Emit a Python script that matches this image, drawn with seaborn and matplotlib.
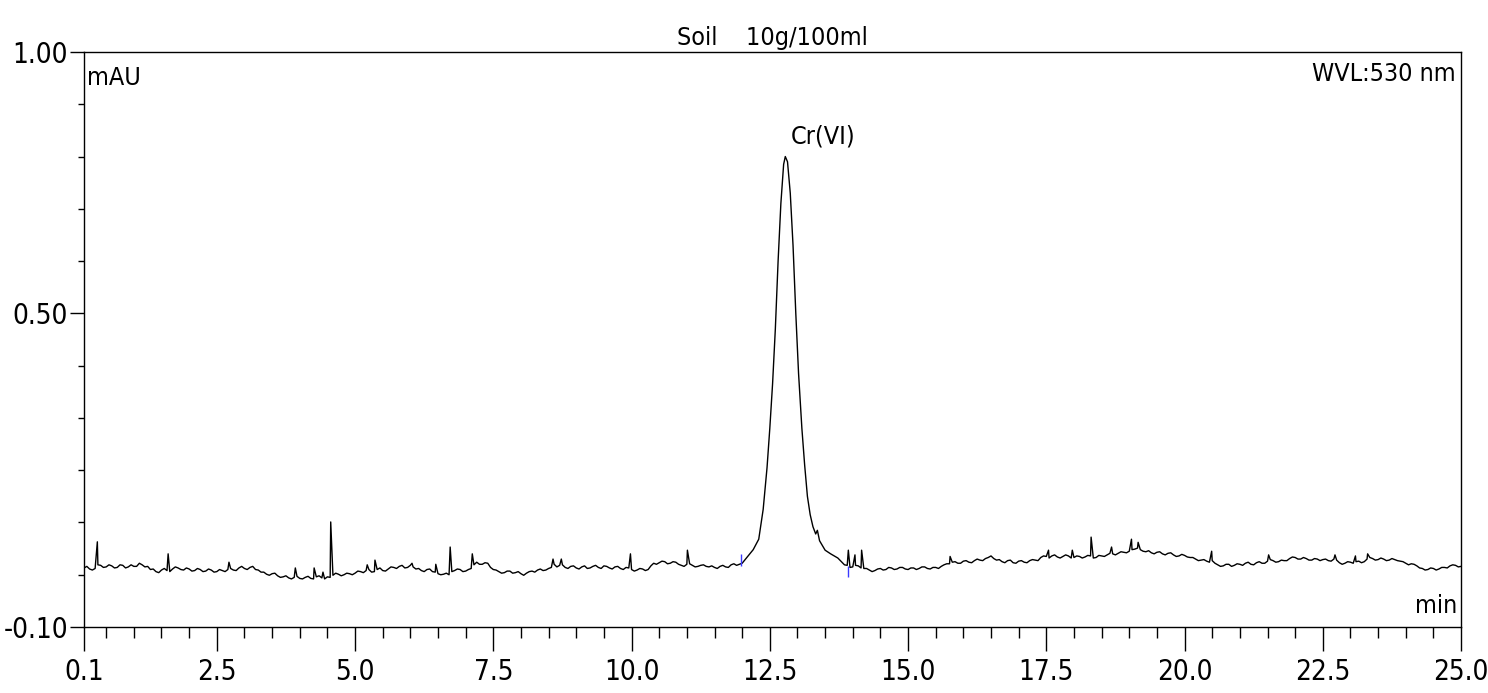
import numpy as np
import pandas as pd
import matplotlib.pyplot as plt
import seaborn as sns
from matplotlib.ticker import FixedLocator, MultipleLocator, FormatStrFormatter

# baseline, one value every 0.1 min from 0.1 to 11.9
base1_start = 0.1
base1 = [
    0.013, 0.011, 0.012, 0.018, 0.015, 0.017, 0.014, 0.018, 0.015, 0.016,
    0.022, 0.015, 0.010, 0.006, 0.009, 0.008, 0.011, 0.013, 0.009, 0.011,
    0.008, 0.010, 0.007, 0.009, 0.006, 0.008, 0.010, 0.009, 0.013, 0.012,
    0.014, 0.010, 0.005, 0.001, 0.002, -0.002, -0.004, -0.006, -0.005, -0.007,
    -0.005, -0.007, -0.004, -0.006, -0.004, -0.001, 0.001, 0.000, 0.002, 0.003,
    0.006, 0.008, 0.005, 0.010, 0.008, 0.011, 0.014, 0.016, 0.013, 0.018,
    0.011, 0.008, 0.010, 0.006, 0.002, 0.001, 0.000, 0.008, 0.010, 0.007,
    0.012, 0.024, 0.020, 0.022, 0.010, 0.006, 0.004, 0.007, 0.004, 0.002,
    0.003, 0.007, 0.009, 0.008, 0.012, 0.020, 0.018, 0.014, 0.016, 0.013,
    0.015, 0.012, 0.016, 0.014, 0.017, 0.013, 0.015, 0.012, 0.014, 0.010,
    0.009, 0.011, 0.010, 0.022, 0.023, 0.025, 0.022, 0.024, 0.018, 0.020,
    0.018, 0.016, 0.019, 0.015, 0.014, 0.016, 0.015, 0.019, 0.018,
]
# the small wiggles half way between those samples (0.15, 0.25, ... 11.85)
base1_mid = [
    0.016, 0.009, 0.019, 0.014, 0.019, 0.013, 0.019, 0.013, 0.019, 0.016,
    0.019, 0.016, 0.011, 0.004, 0.012, 0.006, 0.015, 0.010, 0.013, 0.007,
    0.012, 0.006, 0.011, 0.005, 0.010, 0.006, 0.012, 0.008, 0.016, 0.010,
    0.016, 0.009, 0.005, -0.001, 0.003, -0.005, -0.002, -0.008, -0.003, -0.008,
    -0.003, -0.008, -0.002, -0.008, -0.005, 0.003, -0.002, 0.003, 0.000, 0.007,
    0.004, 0.010, 0.006, 0.013, 0.007, 0.015, 0.012, 0.018, 0.014, 0.015,
    0.012, 0.006, 0.011, 0.005, 0.000, 0.003, 0.006, 0.011, 0.006, 0.010,
    0.019, 0.020, 0.023, 0.014, 0.009, 0.003, 0.007, 0.003, 0.006, -0.001,
    0.006, 0.005, 0.011, 0.009, 0.014, 0.015, 0.019, 0.012, 0.017, 0.011,
    0.017, 0.013, 0.018, 0.012, 0.016, 0.011, 0.016, 0.010, 0.013, 0.007,
    0.012, 0.008, 0.017, 0.020, 0.026, 0.021, 0.025, 0.020, 0.016, 0.021,
    0.015, 0.018, 0.016, 0.017, 0.012, 0.018, 0.014, 0.021,
]

# the Cr(VI) peak
peak_t = [12.00, 12.10, 12.20, 12.30, 12.38, 12.45, 12.50, 12.55, 12.60, 12.65,
          12.70, 12.75, 12.78, 12.82, 12.87, 12.92, 12.97, 13.02, 13.08, 13.13,
          13.18, 13.23, 13.28, 13.33, 13.36, 13.40, 13.50, 13.60, 13.73, 13.85]
peak_v = [0.022, 0.035, 0.048, 0.068, 0.125, 0.205, 0.280, 0.365, 0.470, 0.600,
          0.710, 0.785, 0.800, 0.790, 0.730, 0.630, 0.500, 0.385, 0.280, 0.210,
          0.150, 0.115, 0.092, 0.078, 0.085, 0.065, 0.047, 0.040, 0.032, 0.019]

# baseline after the peak, every 0.1 min from 13.9 to 25.0
base2_start = 13.9
base2 = [
    0.018, 0.015, 0.017, 0.012, 0.009, 0.008, 0.012, 0.010, 0.013, 0.011,
    0.014, 0.010, 0.013, 0.012, 0.015, 0.011, 0.014, 0.016, 0.021, 0.024,
    0.022, 0.026, 0.024, 0.027, 0.028, 0.031, 0.036, 0.028, 0.025, 0.027,
    0.023, 0.026, 0.024, 0.027, 0.028, 0.033, 0.035, 0.036, 0.034, 0.035,
    0.036, 0.033, 0.035, 0.034, 0.036, 0.033, 0.036, 0.038, 0.040, 0.041,
    0.043, 0.045, 0.049, 0.048, 0.044, 0.042, 0.043, 0.040, 0.041, 0.038,
    0.036, 0.037, 0.033, 0.030, 0.028, 0.026, 0.027, 0.019, 0.017, 0.020,
    0.018, 0.020, 0.022, 0.020, 0.023, 0.022, 0.026, 0.027, 0.025, 0.027,
    0.031, 0.033, 0.030, 0.031, 0.028, 0.030, 0.029, 0.027, 0.030, 0.023,
    0.022, 0.024, 0.025, 0.023, 0.030, 0.031, 0.029, 0.030, 0.028, 0.029,
    0.026, 0.022, 0.021, 0.017, 0.012, 0.010, 0.012, 0.011, 0.014, 0.017,
    0.018, 0.016,
]
base2_mid = [
    0.014, 0.018, 0.013, 0.012, 0.006, 0.011, 0.009, 0.014, 0.010, 0.014,
    0.011, 0.013, 0.010, 0.015, 0.012, 0.014, 0.012, 0.019, 0.021, 0.025,
    0.022, 0.027, 0.023, 0.030, 0.027, 0.033, 0.031, 0.029, 0.023, 0.028,
    0.022, 0.027, 0.023, 0.029, 0.027, 0.036, 0.032, 0.038, 0.032, 0.038,
    0.032, 0.036, 0.032, 0.037, 0.032, 0.037, 0.035, 0.041, 0.038, 0.044,
    0.042, 0.048, 0.051, 0.045, 0.046, 0.040, 0.044, 0.038, 0.042, 0.035,
    0.039, 0.034, 0.033, 0.027, 0.029, 0.024, 0.022, 0.016, 0.020, 0.016,
    0.021, 0.018, 0.024, 0.019, 0.025, 0.022, 0.029, 0.024, 0.028, 0.027,
    0.034, 0.030, 0.033, 0.028, 0.031, 0.027, 0.030, 0.026, 0.028, 0.020,
    0.025, 0.022, 0.026, 0.025, 0.033, 0.028, 0.032, 0.027, 0.031, 0.027,
    0.025, 0.019, 0.020, 0.013, 0.009, 0.013, 0.009, 0.014, 0.013, 0.019,
    0.015,
]

# sharp noise spikes
spike_t = [0.34, 1.62, 2.72, 3.92, 4.26, 4.42, 4.56, 5.22, 5.36, 6.03, 6.46,
           6.72, 7.12, 8.58, 8.73, 9.98, 11.01, 13.92, 14.04, 14.16, 15.76,
           17.54, 17.97, 18.31, 18.68, 19.04, 19.16, 20.49, 21.52, 22.72,
           23.09, 23.31]
spike_v = [0.063, 0.040, 0.024, 0.013, 0.013, 0.005, 0.101, 0.019, 0.028,
           0.022, 0.020, 0.053, 0.040, 0.030, 0.030, 0.040, 0.047, 0.047,
           0.038, 0.047, 0.035, 0.047, 0.047, 0.072, 0.053, 0.068, 0.062,
           0.045, 0.038, 0.038, 0.036, 0.040]

# integration start / end markers
marker_t = [11.98, 13.91]
marker_lo = [0.017, -0.004]
marker_hi = [0.040, 0.017]

x_ticks = [0.1, 2.5, 5.0, 7.5, 10.0, 12.5, 15.0, 17.5, 20.0, 22.5, 25.0]
y_ticks = [-0.10, 0.50, 1.00]

t1 = base1_start + 0.1 * np.arange(len(base1))
t1m = base1_start + 0.05 + 0.1 * np.arange(len(base1_mid))
t2 = base2_start + 0.1 * np.arange(len(base2))
t2m = base2_start + 0.05 + 0.1 * np.arange(len(base2_mid))
df = pd.DataFrame({
    "time": np.concatenate([t1, t1m, peak_t, t2, t2m, spike_t]),
    "signal": np.concatenate([base1, base1_mid, peak_v, base2, base2_mid, spike_v]),
}).sort_values("time")

sns.set_style("ticks", {"text.color": "black", "xtick.color": "black",
                        "ytick.color": "black", "axes.edgecolor": "black"})
plt.rcParams["font.family"] = ["Liberation Sans Narrow", "DejaVu Sans"]
plt.rcParams["font.stretch"] = "condensed"
plt.rcParams["axes.unicode_minus"] = False

fig = plt.figure(figsize=(14.88, 6.93), dpi=100)
ax = fig.add_axes([0.0565, 0.0952, 0.9254, 0.8298])

sns.lineplot(data=df, x="time", y="signal", ax=ax, color="black",
             linewidth=1.0, estimator=None, sort=True)
ax.vlines(marker_t, marker_lo, marker_hi, color="#3a3aff", linewidth=1.0)

ax.set_xlim(0.1, 25.0)
ax.set_ylim(-0.10, 1.00)
ax.xaxis.set_major_locator(FixedLocator(x_ticks))
ax.xaxis.set_minor_locator(MultipleLocator(0.5))
ax.yaxis.set_major_locator(FixedLocator(y_ticks))
ax.yaxis.set_minor_locator(MultipleLocator(0.1))
ax.xaxis.set_major_formatter(FormatStrFormatter("%.1f"))
ax.yaxis.set_major_formatter(FormatStrFormatter("%.2f"))
ax.tick_params(axis="x", which="major", length=17, width=1, pad=5, labelsize=20)
ax.tick_params(axis="x", which="minor", length=8, width=1)
ax.tick_params(axis="y", which="major", length=10, width=1, pad=1.5, labelsize=20)
ax.tick_params(axis="y", which="minor", length=4.3, width=1)
for s in ax.spines.values():
    s.set_linewidth(1.0)
    s.set_color("black")
ax.set_xlabel("")
ax.set_ylabel("")

ax.set_title("Soil    10g/100ml", fontsize=18, pad=5, color="black")
ax.text(0.002, 0.975, "mAU", transform=ax.transAxes, fontsize=18, ha="left", va="top")
ax.text(0.996, 0.982, "WVL:530 nm", transform=ax.transAxes, fontsize=18, ha="right", va="top")
ax.text(0.997, 0.015, "min", transform=ax.transAxes, fontsize=18, ha="right", va="bottom")
ax.text(12.88, 0.815, "Cr(VI)", fontsize=18, ha="left", va="bottom")

fig.savefig("out.png", dpi=100)
